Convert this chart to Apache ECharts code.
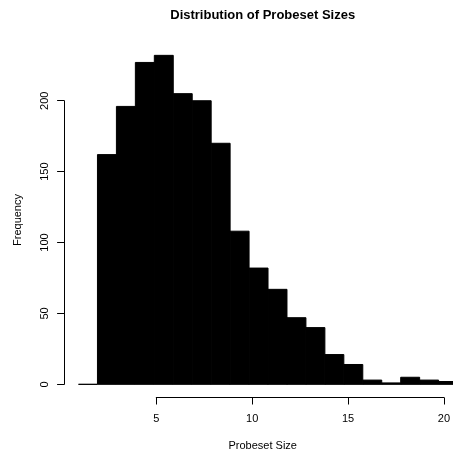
<!DOCTYPE html>
<html><head><meta charset="utf-8">
<script src="https://cdn.jsdelivr.net/npm/echarts@6/dist/echarts.min.js"></script>
<style>html,body{margin:0;padding:0;background:#fff}#c{width:453px;height:451px}</style>
</head><body><div id="c"></div>
<script>
const chartTitle = 'Distribution of Probeset Sizes';
const xName = 'Probeset Size';
const yName = 'Frequency';
const binStarts = [1,2,3,4,5,6,7,8,9,10,11,12,13,14,15,16,17,18,19,20];
const binWidth = 1;
const counts = [0,162,196,227,232,205,200,170,108,82,67,47,40,21,14,3,1,5,3,2];
const xTicks = [5,10,15,20];
const yTicks = [0,50,100,150,200];

const FONT = "'Liberation Sans', Arial, Helvetica, sans-serif";
const histData = binStarts.map((s,i)=>[s, s+binWidth, counts[i]]);

const chart = echarts.init(document.getElementById('c'), null, {renderer:'canvas'});
const plotLeft = 64.1, plotTop = 42.2, plotW = 397.3, plotH = 355.3;
const xMin = 0.24, xMax = 20.76, yMin = -9.28, yMax = 241.28;
const pxX = plotW/(xMax-xMin), pxY = plotH/(yMax-yMin);
const xAxLeft = plotLeft + (xTicks[0]-xMin)*pxX;
const xAxW = (xTicks[xTicks.length-1]-xTicks[0])*pxX;
const yAxTop = plotTop + (yMax-yTicks[yTicks.length-1])*pxY;
const yAxH = (yTicks[yTicks.length-1]-yTicks[0])*pxY;

chart.setOption({
  animation:false,
  backgroundColor:'#fff',
  grid:[
    {left:plotLeft, top:plotTop, width:plotW, height:plotH},
    {left:xAxLeft, top:plotTop, width:xAxW, height:plotH},
    {left:plotLeft, top:yAxTop, width:xAxW, height:yAxH}
  ],
  xAxis:[
    {gridIndex:0, type:'value', min:xMin, max:xMax, show:false},
    {gridIndex:1, type:'value', min:xTicks[0], max:xTicks[xTicks.length-1], interval:5,
     axisLine:{show:true, lineStyle:{color:'#000', width:1}},
     axisTick:{show:true, length:7, lineStyle:{color:'#000'}},
     splitLine:{show:false},
     axisLabel:{margin:16, color:'#000', fontFamily:FONT, fontSize:11}},
    {gridIndex:2, type:'value', show:false, min:0, max:1}
  ],
  yAxis:[
    {gridIndex:0, type:'value', min:yMin, max:yMax, show:false},
    {gridIndex:1, type:'value', show:false, min:0, max:1},
    {gridIndex:2, type:'value', min:yTicks[0], max:yTicks[yTicks.length-1], interval:50,
     axisLine:{show:true, lineStyle:{color:'#000', width:1}},
     axisTick:{show:true, length:7, lineStyle:{color:'#000'}},
     splitLine:{show:false},
     axisLabel:{rotate:90, margin:14, color:'#000', fontFamily:FONT, fontSize:11}}
  ],
  graphic:[
    {type:'text', style:{text:chartTitle, x:262.7, y:15, align:'center', verticalAlign:'middle', font:"bold 13px "+FONT, fill:'#000'}},
    {type:'text', style:{text:xName, x:262.7, y:446, align:'center', verticalAlign:'middle', font:"11px "+FONT, fill:'#000'}},
    {type:'text', rotation:Math.PI/2, x:18, y:220, style:{text:yName, x:0, y:0, align:'center', verticalAlign:'middle', font:"11px "+FONT, fill:'#000'}}
  ],
  series:[{
    type:'custom', xAxisIndex:0, yAxisIndex:0, clip:false,
    data:histData,
    renderItem:function(params, api){
      const p0 = api.coord([api.value(0), api.value(2)]);
      const p1 = api.coord([api.value(1), 0]);
      return {type:'rect', shape:{x:p0[0], y:p0[1], width:p1[0]-p0[0], height:p1[1]-p0[1]},
        style:{fill:'#000', stroke:'#000', lineWidth:1}};
    }
  }]
});
</script></body></html>
